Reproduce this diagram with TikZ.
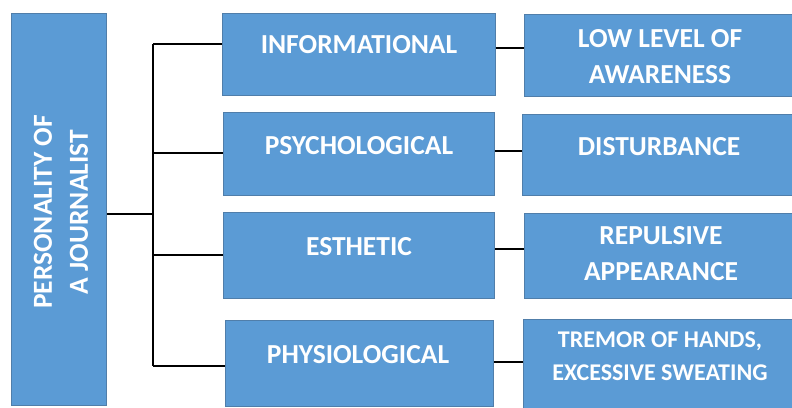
\documentclass[tikz,border=0pt]{standalone}
\usepackage{fontspec}
\setmainfont{Carlito}
\definecolor{boxfill}{RGB}{91,155,213}
\definecolor{boxline}{RGB}{80,126,170}
\tikzset{
  box/.style={draw=boxline, line width=0.8bp, fill=boxfill, inner sep=0pt, anchor=north west},
  lbl/.style={text=white, font=\bfseries\fontsize{27.5bp}{36bp}\selectfont, align=center, inner sep=0pt},
  slbl/.style={text=white, font=\bfseries\fontsize{24bp}{33bp}\selectfont, align=center, inner sep=0pt},
  conn/.style={draw=black, line width=1.6bp}
}
\begin{document}
\begin{tikzpicture}[x=1bp,y=-1bp]
\useasboundingbox (0,0) rectangle (792,407);
% left box
\node[box, minimum width=95bp, minimum height=392bp] (L) at (11,13) {};
\node[lbl, rotate=90] (Lt) at (61,212) {PERSONALITY OF\\A JOURNALIST};
% middle boxes
\node[box, minimum width=273bp, minimum height=82bp] (m1) at (222,13) {};
\node[box, minimum width=271bp, minimum height=83bp] (m2) at (223,112) {};
\node[box, minimum width=271bp, minimum height=86bp] (m3) at (223,212) {};
\node[box, minimum width=268bp, minimum height=86bp] (m4) at (225,320) {};
\node[lbl] (t1) at (359,45) {INFORMATIONAL};
\node[lbl] (t2) at (359,146) {PSYCHOLOGICAL};
\node[lbl] (t3) at (359,247) {ESTHETIC};
\node[lbl] (t4) at (358,355) {PHYSIOLOGICAL};
% right boxes
\node[box, minimum width=274bp, minimum height=82bp] (r1) at (524,14) {};
\node[box, minimum width=276bp, minimum height=81bp] (r2) at (522,114) {};
\node[box, minimum width=274bp, minimum height=85bp] (r3) at (524,213) {};
\node[box, minimum width=275bp, minimum height=90bp] (r4) at (523,319) {};
\node[lbl] (u1) at (660,57) {LOW LEVEL OF\\AWARENESS};
\node[lbl] (u2) at (659,147) {DISTURBANCE};
\node[lbl] (u3) at (661,254) {REPULSIVE\\APPEARANCE};
\node[slbl] (u4) at (660,356.5) {TREMOR OF HANDS,\\EXCESSIVE SWEATING};
% connectors
\coordinate (j) at (153,214);
\coordinate (bt) at (153,44);
\coordinate (b2) at (153,153);
\coordinate (b3) at (153,255);
\coordinate (bb) at (153,366);
\draw[conn] (L.east |- j) -- (j);
\draw[conn] (bt) -- (bb);
\draw[conn] (bt) -- (m1.west |- bt);
\draw[conn] (b2) -- (m2.west |- b2);
\draw[conn] (b3) -- (m3.west |- b3);
\draw[conn] (bb) -- (m4.west |- bb);
\coordinate (c1) at (510,48);
\coordinate (c2) at (510,151);
\coordinate (c3) at (510,249);
\coordinate (c4) at (510,362);
\draw[conn] (m1.east |- c1) -- (r1.west |- c1);
\draw[conn] (m2.east |- c2) -- (r2.west |- c2);
\draw[conn] (m3.east |- c3) -- (r3.west |- c3);
\draw[conn] (m4.east |- c4) -- (r4.west |- c4);
\end{tikzpicture}
\end{document}
